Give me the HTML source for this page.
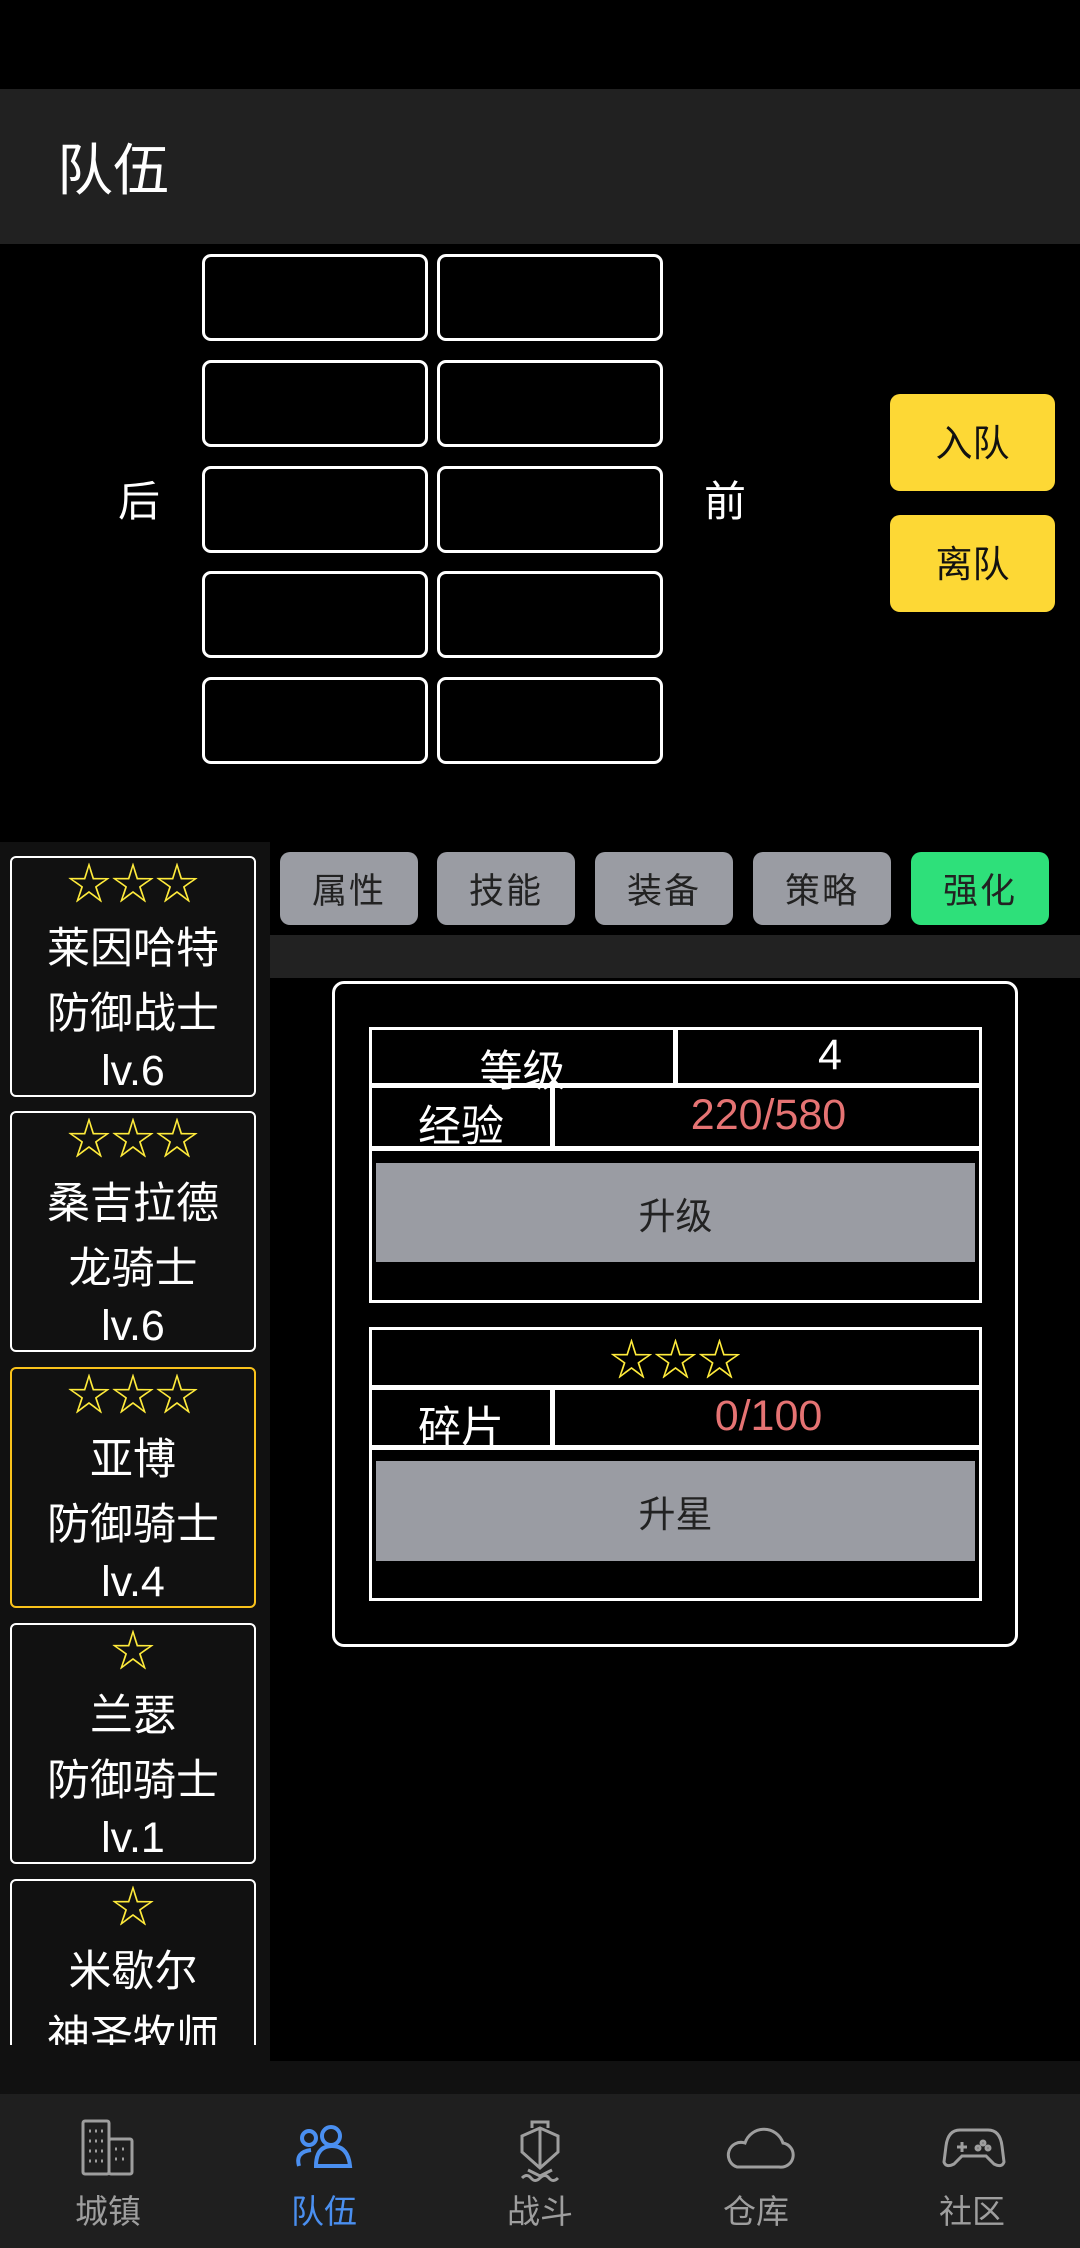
<!DOCTYPE html>
<html><head><meta charset="utf-8"><style>
*{margin:0;padding:0;box-sizing:border-box}
body{width:1080px;height:2248px;background:#000;position:relative;overflow:hidden;font-family:"Liberation Sans","Noto Sans CJK SC",sans-serif;color:#fff}
.a{position:absolute}
.cell{position:absolute;border:3px solid #fff;border-radius:9px;width:226px;height:87px}
.yb{position:absolute;left:890px;width:165px;height:97px;background:#fdd835;border-radius:10px;color:#111;font-size:37px;display:flex;align-items:center;justify-content:center;padding-bottom:6px}
.card{position:absolute;left:10px;width:246px;height:241px;border:2px solid #fff;border-radius:6px;text-align:center;overflow:hidden}
.card div{position:absolute;left:0;right:0;text-align:center;font-size:43px;line-height:50px}
.card .s{color:#ffeb3b;font-size:44px;top:2px}
.tab{position:absolute;top:852px;height:73px;width:138px;background:#9a9ca3;border-radius:10px;color:#222;font-size:35px;display:flex;align-items:center;justify-content:center;letter-spacing:2px}
.ln{position:absolute;background:#fff}
.t{position:absolute;display:flex;align-items:center;justify-content:center;font-size:43px}
.gb{position:absolute;left:376px;width:599px;background:#9a9ca3;color:#222;font-size:37px;display:flex;align-items:center;justify-content:center}
.nav{position:absolute;top:2185px;width:140px;text-align:center;font-size:33px;color:#9e9e9e}
</style></head><body>
<div class="a" style="left:0;top:89px;width:1080px;height:155px;background:#212121"></div>
<div class="a" style="left:57px;top:136px;font-size:56px;line-height:70px">队伍</div>

<div class="cell" style="left:202px;top:254px"></div><div class="cell" style="left:437px;top:254px"></div>
<div class="cell" style="left:202px;top:360px"></div><div class="cell" style="left:437px;top:360px"></div>
<div class="cell" style="left:202px;top:466px"></div><div class="cell" style="left:437px;top:466px"></div>
<div class="cell" style="left:202px;top:571px"></div><div class="cell" style="left:437px;top:571px"></div>
<div class="cell" style="left:202px;top:677px"></div><div class="cell" style="left:437px;top:677px"></div>
<div class="a" style="left:118px;top:468px;font-size:42px">后</div>
<div class="a" style="left:704px;top:468px;font-size:42px">前</div>
<div class="yb" style="top:394px">入队</div>
<div class="yb" style="top:515px">离队</div>

<div class="a" style="left:0;top:842px;width:270px;height:1219px;background:#111"></div>
<div class="a" style="left:0;top:2061px;width:1080px;height:33px;background:#111"></div>
<div class="a" style="left:270px;top:935px;width:810px;height:43px;background:#222"></div>

<div class="a" style="left:0;top:842px;width:270px;height:1203px;overflow:hidden">
<div class="card" style="top:14px"><div class="s">☆☆☆</div><div style="top:66px">莱因哈特</div><div style="top:131px">防御战士</div><div style="top:188px">lv.6</div></div>
<div class="card" style="top:269px"><div class="s">☆☆☆</div><div style="top:66px">桑吉拉德</div><div style="top:131px">龙骑士</div><div style="top:188px">lv.6</div></div>
<div class="card" style="top:525px;border-color:#f9c21b"><div class="s">☆☆☆</div><div style="top:66px">亚博</div><div style="top:131px">防御骑士</div><div style="top:188px">lv.4</div></div>
<div class="card" style="top:781px"><div class="s">☆</div><div style="top:66px">兰瑟</div><div style="top:131px">防御骑士</div><div style="top:188px">lv.1</div></div>
<div class="card" style="top:1037px"><div class="s">☆</div><div style="top:66px">米歇尔</div><div style="top:131px">神圣牧师</div></div>
</div>

<div class="tab" style="left:280px">属性</div>
<div class="tab" style="left:437px">技能</div>
<div class="tab" style="left:595px">装备</div>
<div class="tab" style="left:753px">策略</div>
<div class="tab" style="left:911px;background:#2ee07a">强化</div>

<div class="a" style="left:332px;top:981px;width:686px;height:666px;border:3px solid #fff;border-radius:12px"></div>
<!-- table 1 -->
<div class="a" style="left:369px;top:1027px;width:613px;height:276px;border:3px solid #fff"></div>
<div class="ln" style="left:369px;top:1083px;width:613px;height:5px"></div>
<div class="ln" style="left:369px;top:1146px;width:613px;height:5px"></div>
<div class="ln" style="left:673px;top:1027px;width:5px;height:58px"></div>
<div class="ln" style="left:550px;top:1085px;width:5px;height:63px"></div>
<div class="t" style="left:372px;top:1038px;width:301px;height:60px">等级</div>
<div class="t" style="left:678px;top:1027px;width:304px;height:56px">4</div>
<div class="t" style="left:372px;top:1093px;width:178px;height:60px">经验</div>
<div class="t" style="left:555px;top:1085px;width:427px;height:60px;color:#e57373">220/580</div>
<div class="gb" style="top:1163px;height:99px">升级</div>
<!-- table 2 -->
<div class="a" style="left:369px;top:1327px;width:613px;height:274px;border:3px solid #fff"></div>
<div class="ln" style="left:369px;top:1385px;width:613px;height:5px"></div>
<div class="ln" style="left:369px;top:1445px;width:613px;height:5px"></div>
<div class="ln" style="left:550px;top:1387px;width:5px;height:60px"></div>
<div class="t" style="left:369px;top:1327px;width:613px;height:58px;color:#ffeb3b;font-size:44px">☆☆☆</div>
<div class="t" style="left:372px;top:1394px;width:178px;height:60px">碎片</div>
<div class="t" style="left:555px;top:1387px;width:427px;height:58px;color:#e57373">0/100</div>
<div class="gb" style="top:1461px;height:100px">升星</div>

<!-- nav -->
<div class="a" style="left:0;top:2094px;width:1080px;height:154px;background:#1f1f1f"></div>
<svg class="a" style="left:0;top:2094px" width="1080" height="100" fill="none" stroke-width="3">
<g stroke="#9e9e9e">
<rect x="83" y="27" width="26" height="53" rx="2"/><rect x="109" y="45" width="23" height="35" rx="2"/>
<path d="M89 37h2M95 37h2M101 37h2M89 47h2M95 47h2M101 47h2M89 57h2M95 57h2M101 57h2M89 67h2M95 67h2M101 67h2M115 55h2M122 55h2M115 65h2M122 65h2"/>
<path d="M522 42l18-8 18 8v16l-18 16-18-16z M540 34v40 M532 34v-6h16v6 M522 84q5-5 9 0t9 0t9 0t9 0 M528 76l12 6 12-6"/>
<path d="M737 73h42a12 12 0 0 0 4-24a20 20 0 0 0-38 0a12 12 0 0 0-8 24z"/>
<path d="M960 36h28q12 0 14 16l2 16q-2 6-10 2l-8-8h-24l-8 8q-8 4-10-2l2-16q2-16 14-16z M962 48v10M957 53h10"/>
<circle cx="983" cy="49" r="2"/><circle cx="988" cy="54" r="2"/><circle cx="978" cy="54" r="2"/>
</g>
<g stroke="#4a8ff0" stroke-width="4">
<circle cx="309" cy="44" r="7"/><circle cx="331" cy="42" r="9"/>
<path d="M299 72q-4-14 12-16 M316 72q0-20 16-20t18 20z"/>
</g>
</svg>
<div class="nav" style="left:38px">城镇</div>
<div class="nav" style="left:254px;color:#4a8ff0">队伍</div>
<div class="nav" style="left:470px">战斗</div>
<div class="nav" style="left:686px">仓库</div>
<div class="nav" style="left:902px">社区</div>
</body></html>
